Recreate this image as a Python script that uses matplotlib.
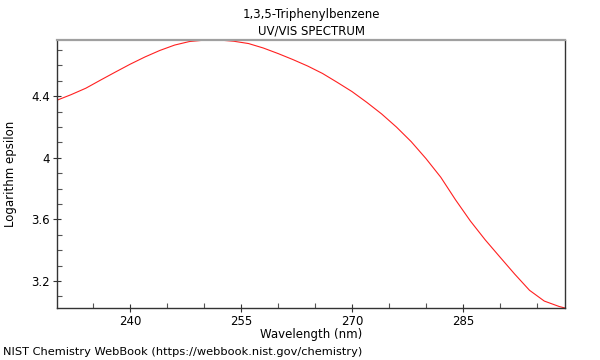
import numpy as np
import matplotlib
matplotlib.use("Agg")
import matplotlib.pyplot as plt
from matplotlib.ticker import MultipleLocator

# spectrum (nm, log epsilon)
wavelength = [230.1, 232, 234, 236, 238, 240, 242, 244, 246, 248, 250, 252,
              254, 256, 258, 260, 262, 264, 266, 268, 270, 272, 274, 276,
              278, 280, 282, 284, 286, 288, 290, 292, 294, 296, 298, 298.8]
log_eps = [4.374, 4.41, 4.452, 4.505, 4.557, 4.608, 4.655, 4.697, 4.732, 4.755,
           4.764, 4.765, 4.757, 4.742, 4.713, 4.677, 4.638, 4.596, 4.548, 4.49,
           4.43, 4.36, 4.285, 4.2, 4.105, 3.995, 3.874, 3.727, 3.59, 3.468,
           3.356, 3.245, 3.14, 3.07, 3.035, 3.025]

x_ticks = [240, 255, 270, 285]
y_ticks = [3.2, 3.6, 4.0, 4.4]
y_tick_labels = ["3.2", "3.6", "4", "4.4"]

fig = plt.figure(figsize=(6, 3.6), dpi=100)
ax = fig.add_axes([57/600, 1-308/360, (565-57)/600, (308-40)/360])

ax.plot(wavelength, log_eps, color="#ff2020", lw=0.8)

ax.set_xlim(min(wavelength), max(wavelength))
ax.set_ylim(min(log_eps), max(log_eps))
ax.set_xticks(x_ticks)
ax.set_yticks(y_ticks)
ax.set_yticklabels(y_tick_labels)
ax.xaxis.set_minor_locator(MultipleLocator(5))
ax.yaxis.set_minor_locator(MultipleLocator(0.1))
ax.tick_params(which="major", direction="inout", length=6, width=0.8,
               labelsize=8.5, colors="#333333", labelcolor="black", pad=2)
ax.tick_params(which="minor", direction="in", length=3.5, width=0.8,
               colors="#555555")
ax.tick_params(top=False, right=False, which="both")

for side in ["left", "bottom", "right"]:
    ax.spines[side].set_color("#333333")
    ax.spines[side].set_linewidth(1.0)
ax.spines["top"].set_color("#a0a0a0")
ax.spines["top"].set_linewidth(1.6)

ax.set_xlabel("Wavelength (nm)", fontsize=8.5, labelpad=0)
ax.set_ylabel("Logarithm epsilon", fontsize=8.5, labelpad=10)
ax.set_title("1,3,5-Triphenylbenzene\nUV/VIS SPECTRUM", fontsize=8.5,
             linespacing=1.3, pad=4)

fig.text(3/600, 1-355/360, "NIST Chemistry WebBook (https://webbook.nist.gov/chemistry)",
         fontsize=8.2, ha="left", va="baseline")

fig.savefig("out.png", dpi=100)
